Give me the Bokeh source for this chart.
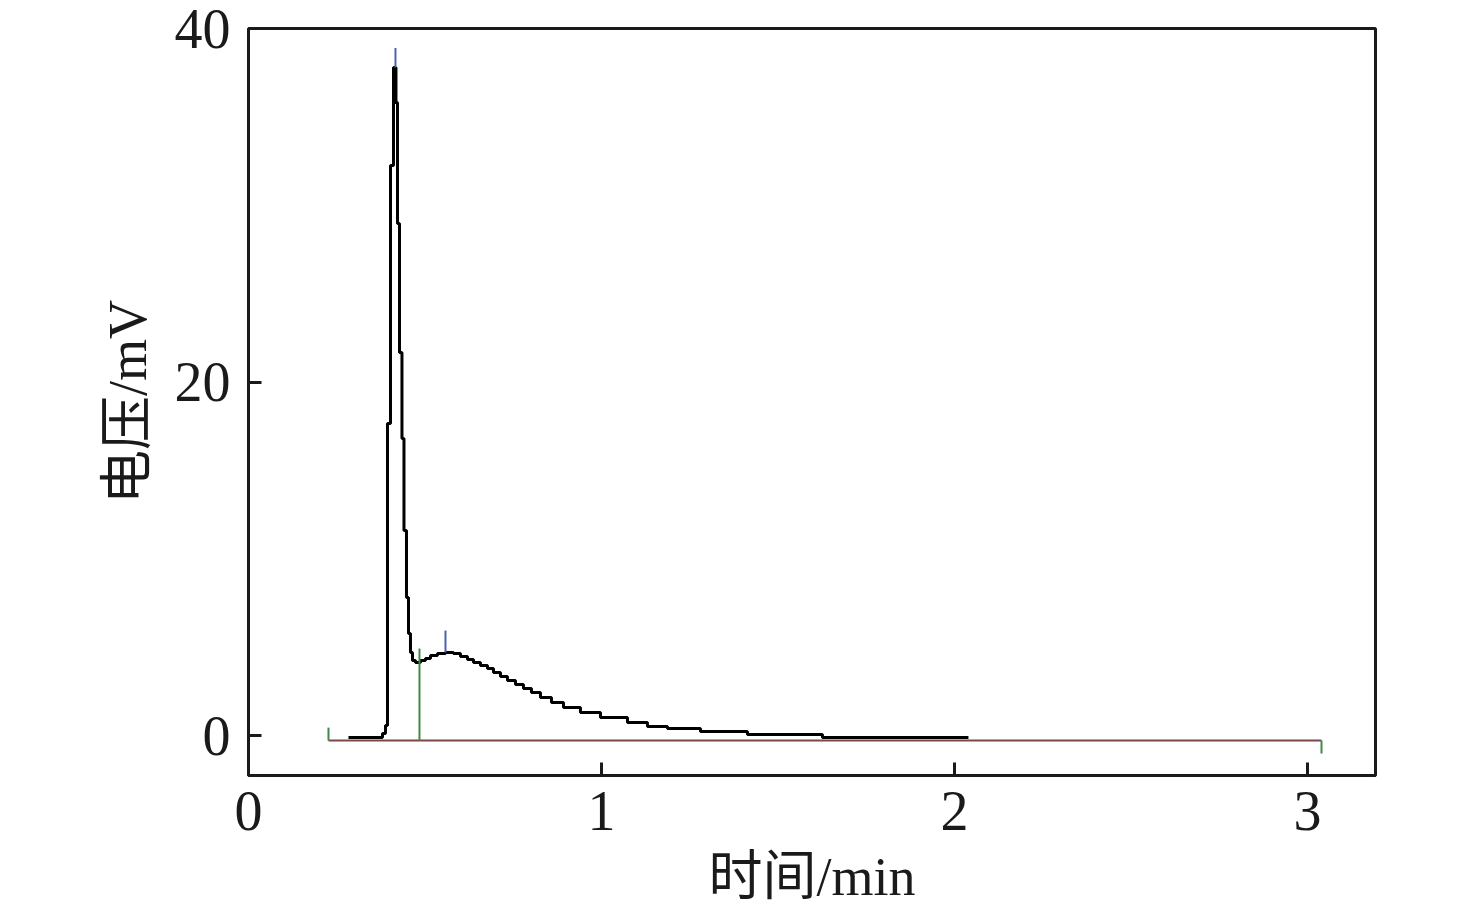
from bokeh.plotting import figure
from bokeh.models import FixedTicker, Range1d
from bokeh.embed import file_html
from bokeh.resources import INLINE

# Chromatogram trace (step samples): time in min, voltage in mV
trace_t = [0.2833, 0.3796, 0.3881, 0.3938, 0.4023, 0.4108, 0.4178, 0.4221, 0.4278,
           0.4348, 0.4405, 0.4476, 0.4533, 0.4589, 0.4646, 0.4731, 0.4873, 0.5014,
           0.5156, 0.5354, 0.5581, 0.5807, 0.6006, 0.6204, 0.6374, 0.6572, 0.6771,
           0.6941, 0.7139, 0.7337, 0.7564, 0.7790, 0.8017, 0.8272, 0.8584, 0.8924,
           0.9405, 0.9972, 1.0737, 1.1303, 1.1870, 1.2805, 1.4136, 1.6261, 2.0397]
trace_v = [-0.11, 0.11, 0.57, 17.65, 32.25, 37.79, 35.81, 28.97, 21.67,
           16.80, 11.60, 7.81, 5.77, 4.70, 4.24, 4.13, 4.24, 4.36,
           4.53, 4.64, 4.70, 4.64, 4.47, 4.30, 4.13, 3.96, 3.79,
           3.56, 3.34, 3.11, 2.89, 2.66, 2.43, 2.15, 1.87, 1.58,
           1.30, 1.02, 0.74, 0.51, 0.40, 0.23, 0.06, -0.11, -0.11]

# Integration baseline
base_t = [0.2266, 3.040]
base_v = [-0.28, -0.28]

# Peak-boundary markers (green)
bound_t = [0.2266, 0.4844, 3.040]
bound_v0 = [-0.28, -0.28, -0.28]
bound_v1 = [0.45, 4.92, -1.02]

# Peak-apex markers (blue)
apex_t = [0.4164, 0.5581]
apex_v0 = [37.79, 4.70]
apex_v1 = [38.9, 5.94]

x_ticks = [0, 1, 2, 3]
y_ticks = [0, 20, 40]

SERIF = "Liberation Serif, Noto Sans CJK SC"

p = figure(width=1468, height=911, output_backend="svg", toolbar_location=None,
           x_range=Range1d(0, 3.193), y_range=Range1d(-2.26, 40),
           min_border_left=248, min_border_top=28, min_border_right=93,
           min_border_bottom=136)
p.grid.visible = False
p.background_fill_color = "white"
p.outline_line_color = "#1a1a1a"
p.outline_line_width = 3

p.step(trace_t, trace_v, mode="after", line_color="black", line_width=3)
p.line(base_t, base_v, line_color="#7a4848", line_width=2)
p.segment(x0=bound_t, y0=bound_v0, x1=bound_t, y1=bound_v1, line_color="#3f8a45", line_width=2)
p.segment(x0=apex_t, y0=apex_v0, x1=apex_t, y1=apex_v1, line_color="#4a62b0", line_width=2)

for ax in (p.xaxis[0], p.yaxis[0]):
    ax.axis_line_color = "#1a1a1a"
    ax.axis_line_width = 3
    ax.major_tick_in = 13
    ax.major_tick_out = 0
    ax.major_tick_line_width = 3
    ax.major_tick_line_color = "#1a1a1a"
    ax.minor_tick_line_color = None
    ax.major_label_text_font = SERIF
    ax.major_label_text_font_size = "56px"
    ax.major_label_text_color = "#1a1a1a"
    ax.axis_label_text_font = SERIF
    ax.axis_label_text_font_size = "54px"
    ax.axis_label_text_font_style = "normal"
    ax.axis_label_text_color = "#1a1a1a"

p.xaxis.ticker = FixedTicker(ticks=x_ticks)
p.yaxis.ticker = FixedTicker(ticks=y_ticks)
p.xaxis.major_label_standoff = 16
p.yaxis.major_label_standoff = 18
p.xaxis.axis_label = "时间/min"
p.yaxis.axis_label = "电压/mV"
p.xaxis.axis_label_standoff = 14
p.yaxis.axis_label_standoff = 14

open("out.html", "w").write(file_html(p, INLINE))
